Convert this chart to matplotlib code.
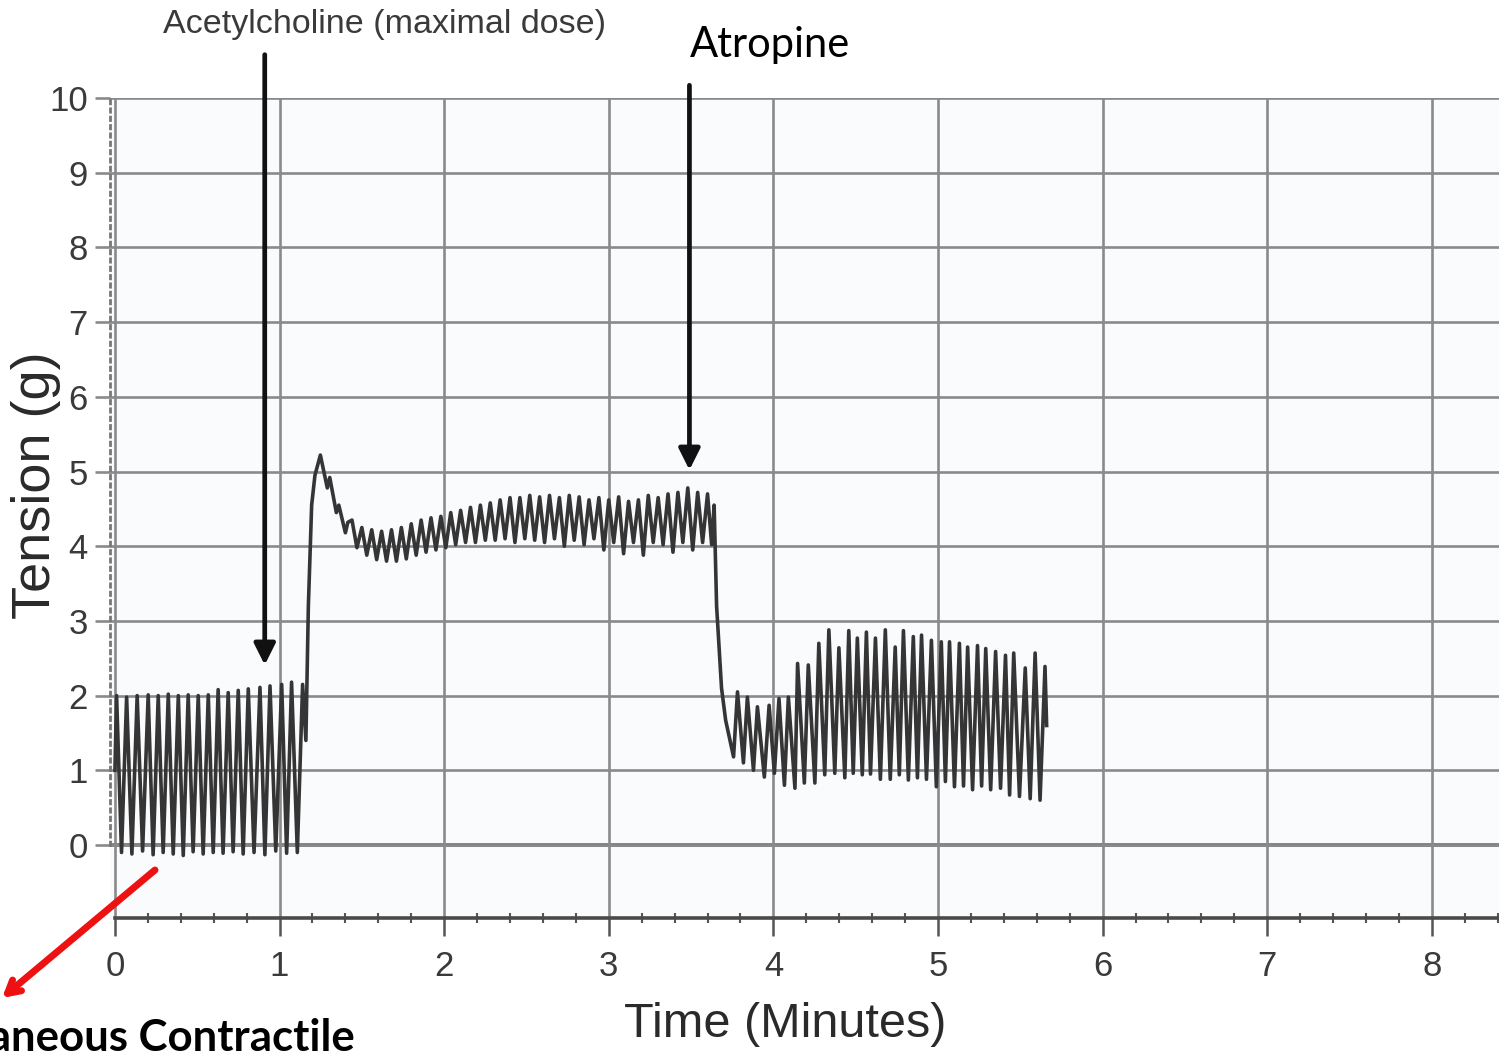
import matplotlib
matplotlib.use("Agg")
import matplotlib.pyplot as plt
from matplotlib.ticker import MultipleLocator

# Tension trace (g) vs time (min)
# baseline: spontaneous contractions
base_t = [0.000, 0.010, 0.040, 0.071, 0.103, 0.135, 0.168, 0.202, 0.232, 0.263, 0.293,
          0.324, 0.354, 0.385, 0.415, 0.445, 0.475, 0.506, 0.536, 0.567, 0.597,
          0.627, 0.657, 0.688, 0.718, 0.749, 0.779, 0.810, 0.845, 0.881, 0.911,
          0.942, 0.977, 1.013, 1.043, 1.073, 1.108, 1.140, 1.160]
base_v = [1.00, 2.00, -0.10, 1.98, -0.12, 2.00, -0.08, 2.01, -0.13, 2.00, -0.10,
          2.02, -0.12, 2.00, -0.14, 2.01, -0.09, 2.00, -0.12, 2.01, -0.10,
          2.08, -0.11, 2.04, -0.09, 2.07, -0.12, 2.09, -0.10, 2.11, -0.13,
          2.13, -0.08, 2.15, -0.11, 2.18, -0.10, 2.15, 1.40]

# acetylcholine response
ach_t = [1.175, 1.195, 1.215, 1.248, 1.290, 1.305, 1.345, 1.360, 1.400, 1.415]
ach_v = [3.20, 4.55, 4.95, 5.22, 4.78, 4.92, 4.45, 4.55, 4.18, 4.32]

ach_peak_t = [1.44, 1.50, 1.56, 1.62, 1.68, 1.74, 1.80, 1.86, 1.92, 1.98,
              2.04, 2.10, 2.16, 2.22, 2.28, 2.34, 2.40, 2.46, 2.52, 2.58,
              2.64, 2.70, 2.76, 2.82, 2.88, 2.94, 3.00, 3.06, 3.12, 3.18,
              3.24, 3.30, 3.36, 3.42, 3.48, 3.54, 3.60]
ach_peak_v = [4.35, 4.25, 4.22, 4.20, 4.22, 4.25, 4.30, 4.35, 4.38, 4.40,
              4.45, 4.48, 4.52, 4.55, 4.58, 4.62, 4.65, 4.65, 4.68, 4.66,
              4.68, 4.65, 4.68, 4.66, 4.62, 4.65, 4.62, 4.66, 4.60, 4.62,
              4.68, 4.65, 4.70, 4.72, 4.78, 4.72, 4.70]
ach_trough_t = [1.47, 1.53, 1.59, 1.65, 1.71, 1.77, 1.83, 1.89, 1.95, 2.01,
                2.07, 2.13, 2.19, 2.25, 2.31, 2.37, 2.43, 2.49, 2.55, 2.61,
                2.67, 2.73, 2.79, 2.85, 2.91, 2.97, 3.03, 3.09, 3.15, 3.21,
                3.27, 3.33, 3.39, 3.45, 3.51, 3.57, 3.625]
ach_trough_v = [3.98, 3.88, 3.82, 3.80, 3.80, 3.83, 3.88, 3.92, 3.95, 3.98,
                4.02, 4.05, 4.05, 4.08, 4.08, 4.10, 4.05, 4.10, 4.08, 4.05,
                4.10, 4.00, 4.08, 4.02, 4.10, 3.95, 4.05, 3.90, 4.05, 3.88,
                4.05, 4.02, 3.92, 4.05, 3.95, 4.05, 4.02]

# atropine: drop, then recovery of spontaneous activity
atr_t = [3.640, 3.655, 3.685, 3.710, 3.758, 3.782, 3.818, 3.842, 3.879, 3.903,
         3.945, 3.974, 4.006, 4.034, 4.067, 4.091, 4.131, 4.147, 4.188, 4.212,
         4.252, 4.276, 4.312, 4.337, 4.373, 4.398, 4.434, 4.458,
         4.485, 4.510, 4.540, 4.565, 4.590, 4.620, 4.650, 4.680, 4.710, 4.740,
         4.765, 4.790, 4.820, 4.850, 4.875, 4.900, 4.930, 4.960, 4.990, 5.020,
         5.045, 5.070, 5.100, 5.130, 5.155, 5.180, 5.210, 5.240, 5.265, 5.290,
         5.320, 5.350, 5.380, 5.410, 5.435, 5.460, 5.495, 5.530, 5.560, 5.590,
         5.620, 5.650, 5.660]
atr_v = [4.55, 3.20, 2.10, 1.67, 1.18, 2.05, 1.10, 1.98, 1.00, 1.85,
         0.91, 1.87, 0.96, 1.96, 0.80, 1.98, 0.76, 2.43, 0.83, 2.41,
         0.83, 2.70, 0.94, 2.88, 0.96, 2.64, 0.90, 2.87,
         0.96, 2.77, 0.94, 2.85, 0.95, 2.77, 0.88, 2.88, 0.88, 2.65,
         0.94, 2.87, 0.87, 2.79, 0.90, 2.81, 0.88, 2.74, 0.78, 2.72,
         0.85, 2.72, 0.78, 2.70, 0.79, 2.65, 0.74, 2.67, 0.79, 2.63,
         0.74, 2.59, 0.76, 2.54, 0.67, 2.57, 0.65, 2.37, 0.62, 2.57,
         0.60, 2.39, 1.60]

x_ticks = [0, 1, 2, 3, 4, 5, 6, 7, 8]
y_ticks = [0, 1, 2, 3, 4, 5, 6, 7, 8, 9, 10]

# join peaks and troughs of the acetylcholine plateau
plateau_t, plateau_v = [], []
for pt, pv, tt, tv in zip(ach_peak_t, ach_peak_v, ach_trough_t, ach_trough_v):
    plateau_t += [pt, tt]
    plateau_v += [pv, tv]

t = base_t + ach_t + plateau_t + atr_t
v = base_v + ach_v + plateau_v + atr_v

plt.rcParams['font.family'] = ['Liberation Sans', 'DejaVu Sans']

fig = plt.figure(figsize=(14.99, 10.55), dpi=100)
ax = fig.add_axes([110 / 1499, 137 / 1055, 1389 / 1499, 820 / 1055])
ax.set_facecolor('#fafbfd')

ax.plot(t, v, color='#353535', lw=2.6, zorder=3)

ax.set_xlim(-0.03, 8.408)
ax.set_ylim(-0.977, 10.0)
ax.set_xticks(x_ticks)
ax.set_yticks(y_ticks)
ax.xaxis.set_minor_locator(MultipleLocator(0.2))
ax.grid(True, which='major', color='#8a8a8a', lw=1.9, zorder=1)
ax.axhline(0, color='#6a6a6a', lw=2.6, zorder=1)

ax.tick_params(axis='y', which='major', length=11, width=1.9, color='#8a8a8a',
               pad=5, labelsize=25, labelcolor='#3a3a3a')
ax.tick_params(axis='x', which='major', length=13, width=1.8, color='#555555',
               pad=10, labelsize=25, labelcolor='#3a3a3a')
ax.tick_params(axis='x', which='minor', length=7, width=1.5, color='#555555',
               direction='inout')

for s in ['top', 'right']:
    ax.spines[s].set_visible(False)
ax.spines['left'].set_linestyle((0, (1.2, 1.8)))
ax.spines['left'].set_color('#777777')
ax.spines['left'].set_linewidth(2)
ax.spines['left'].set_bounds(0, 10)
ax.spines['bottom'].set_color('#4a4a4a')
ax.spines['bottom'].set_linewidth(2.6)
ax.spines['bottom'].set_bounds(0, 8.408)

ax.set_xlabel('Time (Minutes)', fontsize=35, color='#2a2a2a')
ax.xaxis.label.set_va('center')
ax.xaxis.set_label_coords(0.486, -0.130)
ax.set_ylabel('Tension (g)', fontsize=39, color='#2a2a2a')
ax.yaxis.label.set_va('center')
ax.yaxis.set_label_coords(-0.053, 0.528)

# drug markers
ax.annotate('', xy=(0.91, 2.41), xytext=(0.91, 10.58), annotation_clip=False,
            arrowprops=dict(arrowstyle='-|>', color='#111111', lw=3.4,
                            mutation_scale=32, shrinkA=0, shrinkB=0))
ax.text(1.64, 10.98, 'Acetylcholine (maximal dose)', fontsize=24.5, color='#3a3a3a',
        ha='center', va='center', clip_on=False)
ax.annotate('', xy=(3.49, 5.02), xytext=(3.49, 10.17), annotation_clip=False,
            arrowprops=dict(arrowstyle='-|>', color='#111111', lw=3.4,
                            mutation_scale=32, shrinkA=0, shrinkB=0))
ax.text(3.98, 10.71, 'Atropine', fontsize=30, color='black', family='Lato',
        ha='center', va='center', clip_on=False)

# note pointing at the baseline activity (text runs off the left edge, as in the source)
ax.annotate('', xy=(2 / 1499, 1 - 998 / 1055), xycoords='figure fraction',
            xytext=(155 / 1499, 1 - 870 / 1055), textcoords='figure fraction',
            arrowprops=dict(arrowstyle='->,head_length=0.9,head_width=0.5',
                            color='#ee1111', lw=5, shrinkA=0, shrinkB=0))
fig.text(355 / 1499, 1 - 1051 / 1055, 'Spontaneous Contractile', fontsize=31.5,
         fontweight='bold', family='Lato', color='black', ha='right', va='baseline')

fig.savefig('out.png', dpi=100)
